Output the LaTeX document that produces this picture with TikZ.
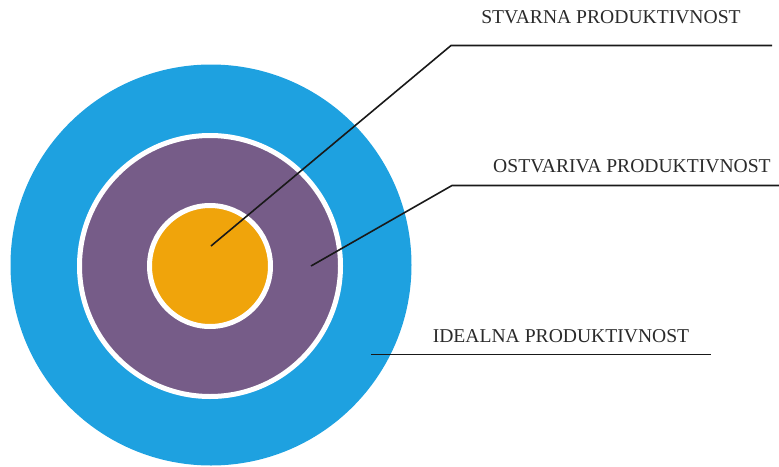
\documentclass[tikz,border=0pt]{standalone}
\usepackage{fontspec}
\setmainfont{Liberation Serif}
\definecolor{cblue}{HTML}{1EA1E0}
\definecolor{cpurple}{HTML}{765C88}
\definecolor{corange}{HTML}{F0A40B}
\definecolor{ctext}{HTML}{2A2A2A}
\tikzset{
  ring/.style={circle, inner sep=0pt, outer sep=0pt},
  lbl/.style={font=\fontsize{19.6pt}{22pt}\selectfont, text=ctext, inner sep=0pt, anchor=center},
  leader/.style={draw=black!90, line width=1.6pt}
}
\begin{document}
\begin{tikzpicture}[x=1pt, y=-1pt]
\useasboundingbox (0,0) rectangle (779,466);
\node[ring, fill=cblue, minimum size=401pt] (ideal) at (211,265) {};
\node[ring, fill=cpurple, draw=white, line width=5pt, minimum size=261pt] (ostv) at (210,266) {};
\node[ring, fill=corange, draw=white, line width=5pt, minimum size=121pt] (stv) at (210,266) {};

\coordinate (p1) at (211,246);
\coordinate (b1) at (451,45.5);
\coordinate (e1) at (772,45.5);
\coordinate (p2) at (311,266);
\coordinate (b2) at (452,185.5);
\coordinate (e2) at (779,185.5);
\coordinate (p3) at (371,354.5);
\coordinate (e3) at (711,354.5);

\draw[leader] (p1) -- (b1) -- (e1);
\draw[leader] (p2) -- (b2) -- (e2);
\draw[leader] (p3) -- (e3);

\node[lbl] (t1) at (611,17) {STVARNA PRODUKTIVNOST};
\node[lbl] (t2) at (632,166.5) {OSTVARIVA PRODUKTIVNOST};
\node[lbl] (t3) at (561,336) {IDEALNA PRODUKTIVNOST};
\end{tikzpicture}
\end{document}
